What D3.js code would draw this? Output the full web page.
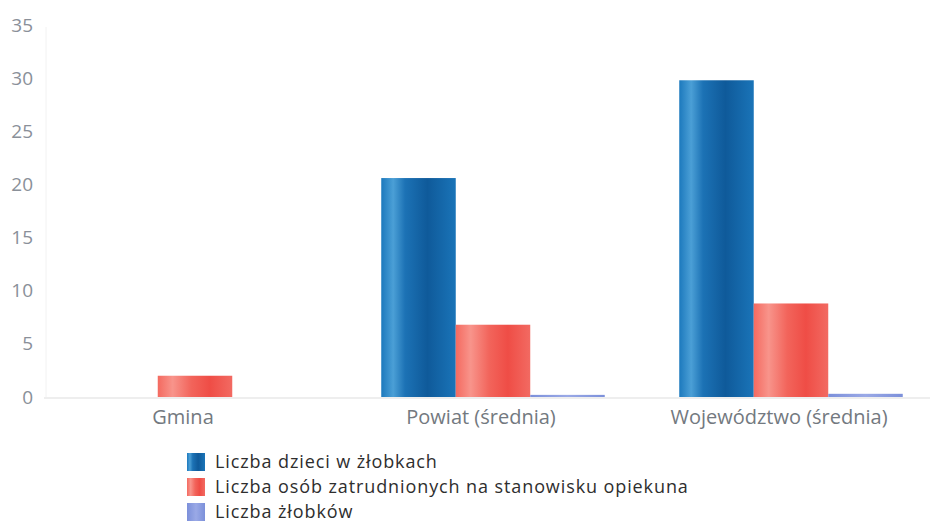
<!DOCTYPE html>
<html><head><meta charset="utf-8">
<script src="https://cdn.jsdelivr.net/npm/d3@7"></script>
<style>body{margin:0;background:#fff;}svg{display:block;font-family:"Open Sans",sans-serif;}</style>
</head><body>
<svg id="c" width="933" height="523"></svg>
<script>
const categories = ["Gmina", "Powiat (średnia)", "Województwo (średnia)"];
const seriesNames = ["Liczba dzieci w żłobkach", "Liczba osób zatrudnionych na stanowisku opiekuna", "Liczba żłobków"];
const dzieci = [0, 20.6, 29.8];
const opiekunowie = [2.0, 6.8, 8.8];
const zlobki = [0, 0.2, 0.3];
const yTicks = [0, 5, 10, 15, 20, 25, 30, 35];

const series = [dzieci, opiekunowie, zlobki];
const svg = d3.select("#c");
const defs = svg.append("defs");
const grads = [
  {id:"g0", stops:[["0%","#1c79bd"],["16%","#4b9fd6"],["32%","#1c72b5"],["62%","#0f5a9a"],["100%","#1a74b8"]]},
  {id:"g1", stops:[["0%","#f46a60"],["20%","#f8948b"],["45%","#f2645b"],["70%","#ef4d46"],["100%","#f26a62"]]},
  {id:"g2", stops:[["0%","#7c90da"],["50%","#9aa9e6"],["100%","#7c90da"]]}
];
grads.forEach(g => {
  const lg = defs.append("linearGradient").attr("id", g.id).attr("x1","0%").attr("x2","100%").attr("y1","0%").attr("y2","0%");
  g.stops.forEach(s => lg.append("stop").attr("offset", s[0]).attr("stop-color", s[1]));
});

const y = d3.scaleLinear().domain([0, 35]).range([397, 25]);
const x0 = d3.scaleBand().domain(categories).range([46, 940]).paddingInner(0.25).paddingOuter(0.125);
const x1 = d3.scaleBand().domain([0,1,2]).range([0, x0.bandwidth()]);

// faint vertical axis line
svg.append("line").attr("x1",46).attr("x2",46).attr("y1",y(35)+2).attr("y2",y(0)).attr("stroke","#f2f2f2");

// y tick labels
const yAxis = d3.axisLeft(y).tickValues(yTicks).tickSize(0).tickPadding(0);
const ya = svg.append("g").attr("transform","translate(33,0)").call(yAxis);
ya.select(".domain").remove();
ya.selectAll("text").attr("font-size",19).attr("fill","#8a9099").attr("font-family","'Open Sans',sans-serif");

// bars
categories.forEach((c, ci) => {
  series.forEach((s, si) => {
    const v = s[ci];
    if (v <= 0) return;
    const h = Math.max(y(0) - y(v), 2);
    svg.append("rect")
      .attr("x", x0(c) + x1(si))
      .attr("width", x1.bandwidth())
      .attr("y", y(0) - h)
      .attr("height", h)
      .attr("fill", `url(#g${si})`);
  });
});

// baseline
svg.append("line").attr("x1",44).attr("x2",930).attr("y1",y(0)+1).attr("y2",y(0)+1).attr("stroke","#e8e8e8").attr("stroke-width",1.5);

// category labels
const xAxis = d3.axisBottom(x0).tickSize(0).tickPadding(0);
const xa = svg.append("g").attr("transform",`translate(-12,${y(0)+27})`).call(xAxis);
xa.select(".domain").remove();
xa.selectAll("text").attr("font-size",20).attr("fill","#737980").attr("dy",0).attr("font-family","'Open Sans',sans-serif");

// legend
const lg = svg.append("g").attr("transform","translate(187,453)");
seriesNames.forEach((n, i) => {
  const row = lg.append("g").attr("transform",`translate(0,${i*25})`);
  row.append("rect").attr("width",18).attr("height",18).attr("fill",`url(#g${i})`);
  row.append("text").attr("x",28).attr("y",15).attr("font-size",18).attr("letter-spacing",0.9).attr("fill","#2e2e2e").text(n);
});
</script>
</body></html>
